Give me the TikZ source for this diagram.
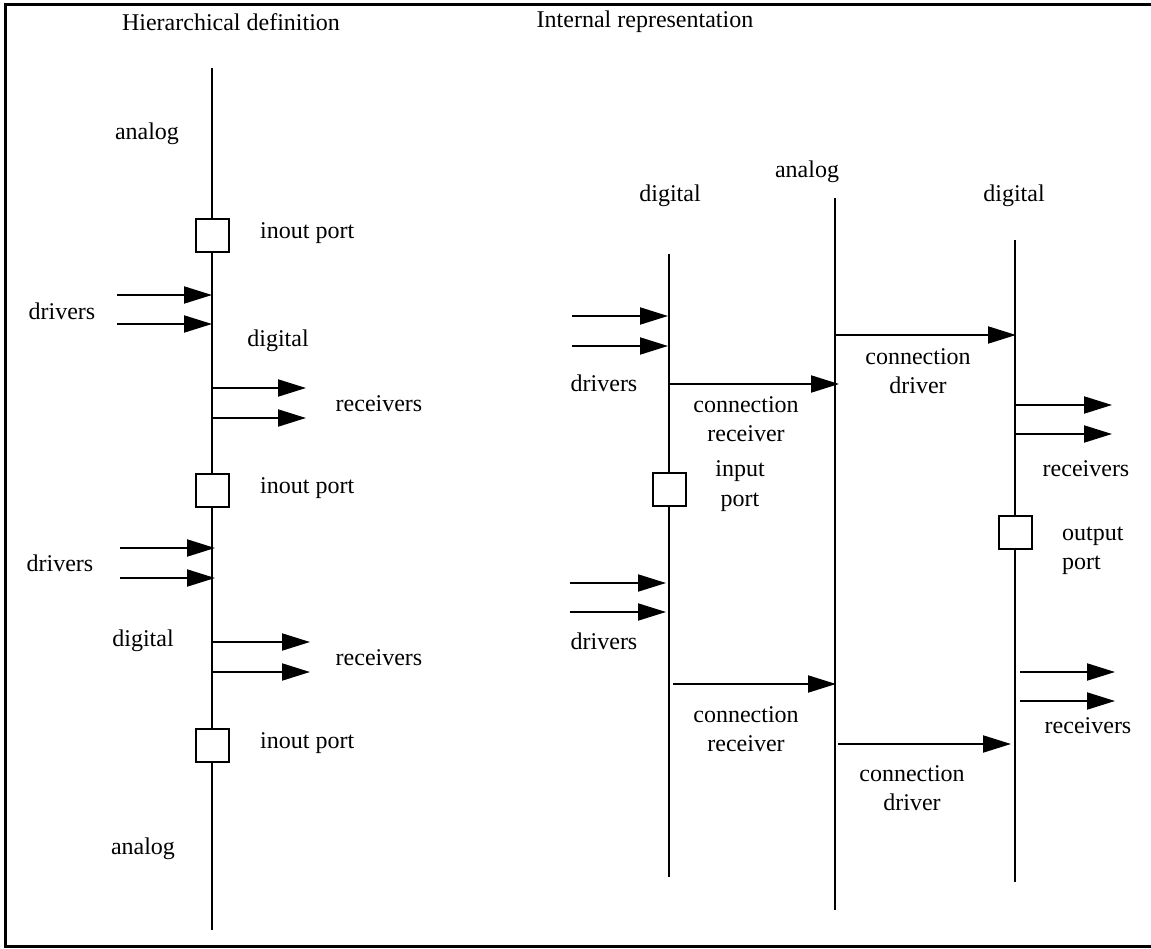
\documentclass[tikz,border=0pt]{standalone}
\usepackage{fontspec}
\setmainfont{Liberation Serif}
\usetikzlibrary{arrows.meta}
\begin{document}
\begin{tikzpicture}[x=1pt,y=-1pt,
  wire/.style={line width=2pt},
  arr/.style={line width=2pt,-{Triangle[length=28pt,width=17pt]}},
  port/.style={draw,line width=2pt,fill=white,minimum size=33pt,inner sep=0pt},
  lbl/.style={font=\fontsize{24}{29.5}\selectfont,inner sep=0pt,align=center},
  lbll/.style={lbl,anchor=west,align=left}]
\useasboundingbox (0,0) rectangle (1151,949);
\draw[line width=3pt] (1151,4.5) -- (5.5,4.5) -- (5.5,946.5) -- (1151,946.5);
% ---------- left: hierarchical definition
\node[lbl] (t1) at (231,22) {Hierarchical definition};
\coordinate (Ltop) at (212,68);
\coordinate (Lbot) at (212,930);
\draw[wire] (Ltop) -- (Lbot);
\node[port] (p1) at (212,236) {};
\node[port] (p2) at (212,490) {};
\node[port] (p3) at (212,745) {};
\node[lbl] (a1) at (147,134) {analog};
\node[lbll] (ip1) at (260,233) {inout port};
\node[lbll] (ip2) at (260,488) {inout port};
\node[lbll] (ip3) at (260,743) {inout port};
\node[lbl] (d1) at (62,311) {drivers};
\node[lbl] (g1) at (278,341) {digital};
\node[lbl] (r1) at (379,404) {receivers};
\node[lbl] (d2) at (60,563) {drivers};
\node[lbl] (g2) at (143,641) {digital};
\node[lbl] (r2) at (379,658) {receivers};
\node[lbl] (a2) at (143,849) {analog};
\coordinate (s1) at (117,295); \coordinate (e1) at (212,295);
\coordinate (s2) at (117,324); \coordinate (e2) at (212,324);
\coordinate (s3) at (212,388); \coordinate (e3) at (306,388);
\coordinate (s4) at (212,418); \coordinate (e4) at (306,418);
\coordinate (s5) at (120,548); \coordinate (e5) at (215,548);
\coordinate (s6) at (120,578); \coordinate (e6) at (215,578);
\coordinate (s7) at (212,642); \coordinate (e7) at (310,642);
\coordinate (s8) at (212,672); \coordinate (e8) at (310,672);
\foreach \i in {1,...,8} {\draw[arr] (s\i) -- (e\i);}
% ---------- right: internal representation
\node[lbl] (t2) at (645,22) {Internal representation};
\coordinate (Dtop) at (669,254); \coordinate (Dbot) at (669,877);
\coordinate (Atop) at (835,198); \coordinate (Abot) at (835,910);
\coordinate (Rtop) at (1015,240); \coordinate (Rbot) at (1015,882);
\draw[wire] (Dtop) -- (Dbot);
\draw[wire] (Atop) -- (Abot);
\draw[line width=1.4pt] (Rtop) -- (Rbot);
\node[lbl] (gd) at (670,196) {digital};
\node[lbl] (ga) at (807,172) {analog};
\node[lbl] (gr) at (1014,196) {digital};
\node[port] (ip) at (669,489) {};
\node[port] (op) at (1015,532) {};
\node[lbl] (ipl) at (740,486) {input\\port};
\node[lbll] (opl) at (1062,551) {output\\port};
% drivers on left digital
\coordinate (u1) at (572,316); \coordinate (v1) at (668,316);
\coordinate (u2) at (572,346); \coordinate (v2) at (668,346);
\coordinate (u3) at (570,583); \coordinate (v3) at (666,583);
\coordinate (u4) at (570,612); \coordinate (v4) at (666,612);
% receivers on right digital
\coordinate (u5) at (1015,405); \coordinate (v5) at (1112,405);
\coordinate (u6) at (1015,434); \coordinate (v6) at (1112,434);
\coordinate (u7) at (1020,672); \coordinate (v7) at (1115,672);
\coordinate (u8) at (1020,701); \coordinate (v8) at (1115,701);
% connection arrows
\coordinate (u9) at (669,384); \coordinate (v9) at (839,384);
\coordinate (u10) at (835,335); \coordinate (v10) at (1016,335);
\coordinate (u11) at (673,684); \coordinate (v11) at (836,684);
\coordinate (u12) at (838,744); \coordinate (v12) at (1011,744);
\foreach \i in {1,...,12} {\draw[arr] (u\i) -- (v\i);}
\node[lbl] (dr1) at (604,383) {drivers};
\node[lbl] (dr2) at (604,641) {drivers};
\node[lbl] (cr1) at (746,419) {connection\\receiver};
\node[lbl] (cr2) at (746,729) {connection\\receiver};
\node[lbl] (cd1) at (918,371) {connection\\driver};
\node[lbl] (cd2) at (912,788) {connection\\driver};
\node[lbl] (rc1) at (1086,469) {receivers};
\node[lbl] (rc2) at (1088,726) {receivers};
\end{tikzpicture}
\end{document}
